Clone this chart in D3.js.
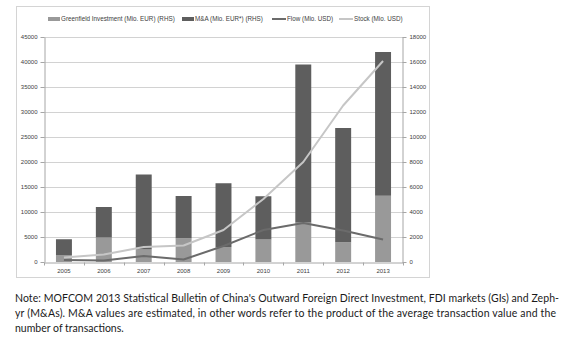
<!DOCTYPE html>
<html>
<head>
<meta charset="utf-8">
<script src="https://cdn.jsdelivr.net/npm/d3@7"></script>
<style>
  html, body { margin: 0; padding: 0; background: #fff; }
  svg { display: block; }
</style>
</head>
<body>
<svg id="chart" width="576" height="345"></svg>
<script>
// Years on the category axis
const years = ["2005","2006","2007","2008","2009","2010","2011","2012","2013"];
// Bars, right-hand axis
const greenfield = [560, 1960, 1000, 1900, 1200, 1800, 3150, 1580, 5300];
const mergers    = [1260, 2440, 6000, 3380, 5100, 3460, 12650, 9140, 11500];
// Lines, left-hand axis
const flow  = [400, 300, 1200, 500, 3200, 6400, 7800, 6300, 4500];
const stock = [900, 1500, 3000, 3300, 6400, 12600, 20000, 31300, 40200];
// Axis ticks
const leftTicks  = [0, 5000, 10000, 15000, 20000, 25000, 30000, 35000, 40000, 45000];
const rightTicks = [0, 2000, 4000, 6000, 8000, 10000, 12000, 14000, 16000, 18000];

const svg = d3.select("#chart");
const font = "'Liberation Sans', Arial, sans-serif";

const plot = { left: 44, right: 403, top: 37, bottom: 262 };

// Outer chart frame
svg.append("rect")
  .attr("x", 16.5).attr("y", 6.5).attr("width", 413).attr("height", 271)
  .attr("fill", "#fff").attr("stroke", "#d4d4d4").attr("stroke-width", 1);

const x = d3.scaleBand().domain(years).range([plot.left, plot.right]).paddingInner(0).paddingOuter(0);
const yL = d3.scaleLinear().domain([0, 45000]).range([plot.bottom, plot.top]);
const yR = d3.scaleLinear().domain([0, 18000]).range([plot.bottom, plot.top]);

// Gridlines
svg.append("g").selectAll("line").data(leftTicks.slice(1)).join("line")
  .attr("x1", plot.left).attr("x2", plot.right)
  .attr("y1", d => Math.round(yL(d)) + 0.5).attr("y2", d => Math.round(yL(d)) + 0.5)
  .attr("stroke", "#d2d2d2").attr("stroke-width", 1);

// Stacked bars
const barW = x.bandwidth() * 0.4;
const bars = svg.append("g");
years.forEach((yr, i) => {
  const cx = x(yr) + x.bandwidth() / 2;
  bars.append("rect")
    .attr("x", cx - barW / 2).attr("width", barW)
    .attr("y", yR(greenfield[i])).attr("height", yR(0) - yR(greenfield[i]))
    .attr("fill", "#999999");
  bars.append("rect")
    .attr("x", cx - barW / 2).attr("width", barW)
    .attr("y", yR(greenfield[i] + mergers[i])).attr("height", yR(greenfield[i]) - yR(greenfield[i] + mergers[i]))
    .attr("fill", "#5e5e5e");
});

// Lines
const line = d3.line().x((d, i) => x(years[i]) + x.bandwidth() / 2).y(d => yL(d));
svg.append("path").datum(stock).attr("d", line)
  .attr("fill", "none").attr("stroke", "#c6c6c6").attr("stroke-width", 2).attr("stroke-linejoin", "round");
svg.append("path").datum(flow).attr("d", line)
  .attr("fill", "none").attr("stroke", "#6b6b6b").attr("stroke-width", 2).attr("stroke-linejoin", "round");

// Axes
function styleAxis(g) {
  g.selectAll("path.domain").attr("stroke", "#a6a6a6");
  g.selectAll(".tick line").attr("stroke", "#a6a6a6");
  g.selectAll("text").attr("fill", "#404040").style("font-family", font).style("font-size", "6px");
}
svg.append("g").attr("transform", `translate(${plot.left + 0.5},0)`)
  .call(d3.axisLeft(yL).tickValues(leftTicks).tickSize(4).tickSizeOuter(0).tickPadding(3).tickFormat(d3.format("d")))
  .call(styleAxis);
svg.append("g").attr("transform", `translate(${plot.right - 0.5},0)`)
  .call(d3.axisRight(yR).tickValues(rightTicks).tickSize(4).tickSizeOuter(0).tickPadding(3).tickFormat(d3.format("d")))
  .call(styleAxis);
const xAxis = svg.append("g").attr("transform", `translate(0,${plot.bottom + 0.5})`)
  .call(d3.axisBottom(x).tickSize(0).tickPadding(6))
  .call(styleAxis);
// Category separators below the baseline
xAxis.append("g").selectAll("line").data(d3.range(years.length + 1)).join("line")
  .attr("x1", i => Math.round(plot.left + i * x.bandwidth()) + 0.5)
  .attr("x2", i => Math.round(plot.left + i * x.bandwidth()) + 0.5)
  .attr("y1", 0).attr("y2", 3).attr("stroke", "#a6a6a6");

// Legend
const legend = svg.append("g").style("font-family", font).style("font-size", "6.3px").attr("fill", "#404040");
const items = [
  { label: "Greenfield Investment (Mio. EUR) (RHS)", type: "rect", color: "#999999", x: 48 },
  { label: "M&A (Mio. EUR*) (RHS)", type: "rect", color: "#5e5e5e", x: 182 },
  { label: "Flow (Mio. USD)", type: "line", color: "#6b6b6b", x: 272 },
  { label: "Stock (Mio. USD)", type: "line", color: "#c6c6c6", x: 339 }
];
items.forEach(it => {
  if (it.type === "rect") {
    legend.append("rect").attr("x", it.x).attr("y", 17).attr("width", 12).attr("height", 4).attr("fill", it.color);
  } else {
    legend.append("line").attr("x1", it.x).attr("x2", it.x + 14).attr("y1", 19).attr("y2", 19)
      .attr("stroke", it.color).attr("stroke-width", 2);
  }
  legend.append("text").attr("x", it.x + (it.type === "rect" ? 13 : 15)).attr("y", 21).text(it.label);
});

// Note below the chart
const note = [
  "Note: MOFCOM 2013 Statistical Bulletin of China's Outward Foreign Direct Investment, FDI markets (GIs) and Zeph-",
  "yr (M&As). M&A values are estimated, in other words refer to the product of the average transaction value and the",
  "number of transactions."
];
const noteG = svg.append("g").style("font-family", "Lato, 'Open Sans', sans-serif").style("font-size", "10.5px").attr("fill", "#1a1a1a");
noteG.append("text").attr("x", 15).attr("y", 302).attr("textLength", 544).attr("lengthAdjust", "spacing").text(note[0]);
noteG.append("text").attr("x", 15).attr("y", 317).attr("textLength", 541).attr("lengthAdjust", "spacing").text(note[1]);
noteG.append("text").attr("x", 15).attr("y", 332).text(note[2]);
</script>
</body>
</html>
